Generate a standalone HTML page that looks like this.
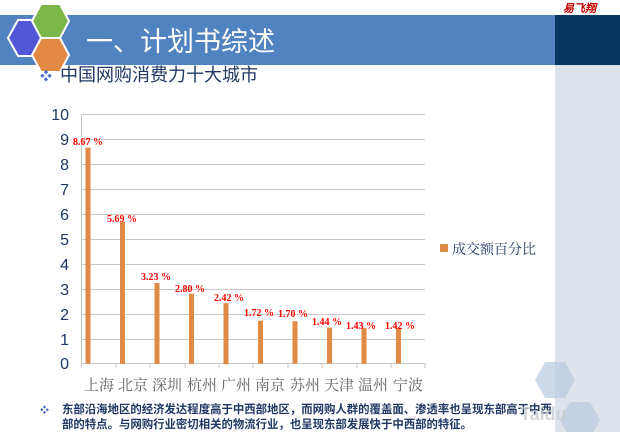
<!DOCTYPE html>
<html><head><meta charset="utf-8"><style>
body{margin:0;width:620px;height:432px;overflow:hidden;background:#fff;position:relative;font-family:"Liberation Sans","Noto Sans CJK SC",sans-serif}
</style></head><body>
<div style="position:absolute;left:0;top:15px;width:555px;height:50px;background:#5183c0"></div>
<div style="position:absolute;left:555px;top:15px;width:65px;height:50px;background:#073763"></div>
<div style="position:absolute;left:555px;top:65px;width:65px;height:367px;background:#dce3ea"></div>
<div style="position:absolute;left:563px;top:0;font:bold italic 11px 'Liberation Serif',serif;color:#c00000">易飞翔</div>
<svg width="620" height="432" style="position:absolute;left:0;top:0">
<polygon points="8,38 18,20 38,20 48,38 38,56 18,56" fill="#5257d8" stroke="#fff" stroke-width="2"/>
<polygon points="32,21 41,4 60,4 69,21 60,38 41,38" fill="#7ab648" stroke="#fff" stroke-width="2"/>
<polygon points="32,55 41,38 60,38 69,55 60,72 41,72" fill="#e28a45" stroke="#fff" stroke-width="2"/>
<text x="86" y="51" font-size="27" fill="#fff" font-family="Liberation Sans,Noto Sans CJK SC,sans-serif">一、计划书综述</text>
<text x="40" y="80" font-size="12" fill="#4a6fd0">❖</text>
<text x="60" y="81" font-size="18" fill="#1f3864" font-family="Liberation Sans,Noto Sans CJK SC,sans-serif">中国网购消费力十大城市</text>
<g stroke="#c8c8c8" stroke-width="1">
<line x1="81" y1="114.5" x2="425" y2="114.5"/><line x1="81" y1="139.5" x2="425" y2="139.5"/><line x1="81" y1="164.5" x2="425" y2="164.5"/><line x1="81" y1="189.5" x2="425" y2="189.5"/><line x1="81" y1="214.5" x2="425" y2="214.5"/><line x1="81" y1="239.5" x2="425" y2="239.5"/><line x1="81" y1="264.5" x2="425" y2="264.5"/><line x1="81" y1="289.5" x2="425" y2="289.5"/><line x1="81" y1="314.5" x2="425" y2="314.5"/><line x1="81" y1="339.5" x2="425" y2="339.5"/><line x1="81" y1="363.5" x2="425" y2="363.5"/>
<line x1="81.5" y1="114" x2="81.5" y2="368"/>
<line x1="116" y1="363" x2="116" y2="368"/><line x1="150" y1="363" x2="150" y2="368"/><line x1="185" y1="363" x2="185" y2="368"/><line x1="219" y1="363" x2="219" y2="368"/><line x1="253" y1="363" x2="253" y2="368"/><line x1="288" y1="363" x2="288" y2="368"/><line x1="322" y1="363" x2="322" y2="368"/><line x1="357" y1="363" x2="357" y2="368"/><line x1="391" y1="363" x2="391" y2="368"/><line x1="425" y1="363" x2="425" y2="368"/>
</g>
<g font-size="16" fill="#1f3864" text-anchor="end">
<text x="69" y="120">10</text><text x="69" y="145">9</text><text x="69" y="170">8</text><text x="69" y="195">7</text><text x="69" y="220">6</text><text x="69" y="245">5</text><text x="69" y="270">4</text><text x="69" y="295">3</text><text x="69" y="320">2</text><text x="69" y="345">1</text><text x="69" y="369">0</text>
</g>
<g fill="#e08a43">
<rect x="85.5" y="147.6" width="5" height="216"/>
<rect x="120" y="221.8" width="5" height="142"/>
<rect x="154.5" y="283" width="5" height="81"/>
<rect x="189" y="293.7" width="5" height="70"/>
<rect x="223.5" y="303.2" width="5" height="61"/>
<rect x="258" y="320.7" width="5" height="43"/>
<rect x="292.5" y="321.2" width="5" height="42.5"/>
<rect x="327" y="327.6" width="5" height="36"/>
<rect x="361.5" y="327.9" width="5" height="36"/>
<rect x="396" y="328.1" width="5" height="35.5"/>
</g>
<g font-size="10" font-weight="bold" fill="#ff0000" font-family="Liberation Serif,serif">
<text x="73" y="145">8.67 %</text>
<text x="107" y="222">5.69 %</text>
<text x="141" y="280">3.23 %</text>
<text x="175" y="292">2.80 %</text>
<text x="214" y="301">2.42 %</text>
<text x="244" y="316">1.72 %</text>
<text x="278" y="317">1.70 %</text>
<text x="312" y="325">1.44 %</text>
<text x="346" y="329">1.43 %</text>
<text x="385" y="329">1.42 %</text>
</g>
<g font-size="15" fill="#666" font-family="Liberation Serif,Noto Serif CJK SC,serif" text-anchor="middle">
<text x="99" y="390">上海</text><text x="133" y="390">北京</text><text x="167" y="390">深圳</text><text x="202" y="390">杭州</text><text x="236" y="390">广州</text><text x="270" y="390">南京</text><text x="305" y="390">苏州</text><text x="339" y="390">天津</text><text x="373" y="390">温州</text><text x="408" y="390">宁波</text>
</g>
<rect x="440" y="244" width="8" height="8" fill="#e08a43"/>
<text x="452" y="254" font-size="14" fill="#1f3864" font-family="Liberation Serif,Noto Serif CJK SC,serif">成交额百分比</text>
<text x="40" y="413" font-size="9" fill="#4a6fd0">❖</text>
<g font-size="11.4" font-weight="bold" fill="#1f3864" font-family="Liberation Sans,Noto Sans CJK SC,sans-serif">
<text x="62" y="413">东部沿海地区的经济发达程度高于中西部地区，而网购人群的覆盖面、渗透率也呈现东部高于中西</text>
<text x="62" y="428">部的特点。与网购行业密切相关的物流行业，也呈现东部发展快于中西部的特征。</text>
</g>
<polygon points="535,380 545,362 565,362 575,380 565,398 545,398" fill="#b7c9e0" opacity="0.7"/>
<polygon points="560,420 570,402 590,402 600,420 590,438 570,438" fill="#b7c9e0" opacity="0.7"/>
<text x="520" y="420" font-size="18" font-weight="bold" fill="#c8ccd2" opacity="0.8">Taidu</text>
</svg>
</body></html>
